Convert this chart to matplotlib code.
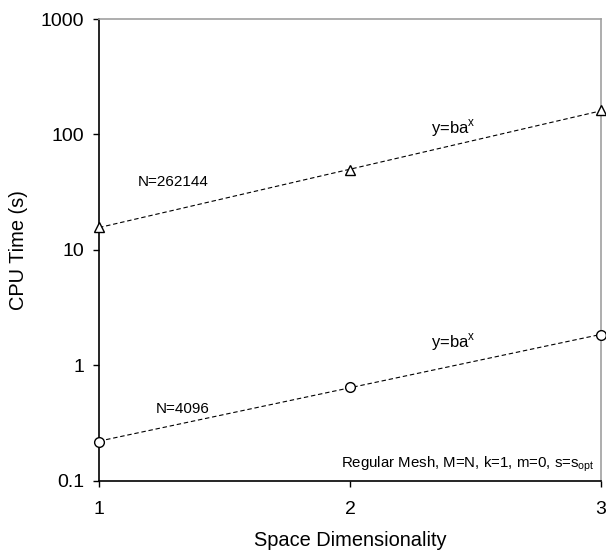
import numpy as np
import matplotlib
matplotlib.use("Agg")
import matplotlib.pyplot as plt

plt.rcParams['font.family'] = ['Liberation Sans', 'DejaVu Sans']

dims = [1, 2, 3]
time_262144 = [15.8, 49.0, 162.0]
time_4096 = [0.219, 0.655, 1.84]
y_ticks = [0.1, 1, 10, 100, 1000]
y_tick_labels = ['0.1', '1', '10', '100', '1000']

fig = plt.figure(figsize=(6.06, 5.54), dpi=100)
ax = fig.add_axes([0.1634, 0.1318, 0.8283, 0.8339])

xs = np.array(dims, dtype=float)
for vals, mk, ms in [(time_262144, '^', 7.5), (time_4096, 'o', 7)]:
    # fit y = b*a^x in log space
    p = np.polyfit(xs, np.log10(vals), 1)
    ax.plot(xs, 10 ** np.polyval(p, xs), '--', color='black', lw=0.8,
            dashes=(4, 2.5))
    ax.plot(dims, vals, mk, mfc='white', mec='black', ms=ms, mew=1.0,
            clip_on=False, zorder=5)

ax.set_yscale('log')
ax.set_xlim(1, 3)
ax.set_ylim(0.1, 1000)
ax.set_xticks(dims)
ax.set_xticklabels([str(d) for d in dims])
ax.set_yticks(y_ticks)
ax.set_yticklabels(y_tick_labels)
ax.minorticks_off()
ax.tick_params(direction='out', length=4.5, width=1, labelsize=14)
ax.tick_params(axis='y', pad=6)
ax.tick_params(axis='x', pad=10)

for s in ['left', 'bottom']:
    ax.spines[s].set_linewidth(1.2)
for s in ['top', 'right']:
    ax.spines[s].set_color('#a0a0a0')
    ax.spines[s].set_linewidth(1.2)

ax.text(1.295, 38.5, 'N=262144', fontsize=11, ha='center', va='center')
ax.text(2.41, 113, r'y=ba$^{\mathregular{x}}$', fontsize=12, ha='center', va='center')
ax.text(1.335, 0.42, 'N=4096', fontsize=11, ha='center', va='center')
ax.text(2.41, 1.6, r'y=ba$^{\mathregular{x}}$', fontsize=12, ha='center', va='center')
ax.text(2.975, 0.14, r'Regular Mesh, M=N, k=1, m=0, s=s$_{\mathregular{opt}}$',
        fontsize=10.8, ha='right', va='center')

ax.set_xlabel('Space Dimensionality', fontsize=14.4, labelpad=9)
ax.set_ylabel('CPU Time (s)', fontsize=14.4, labelpad=9)

fig.savefig('out.png', dpi=100)
